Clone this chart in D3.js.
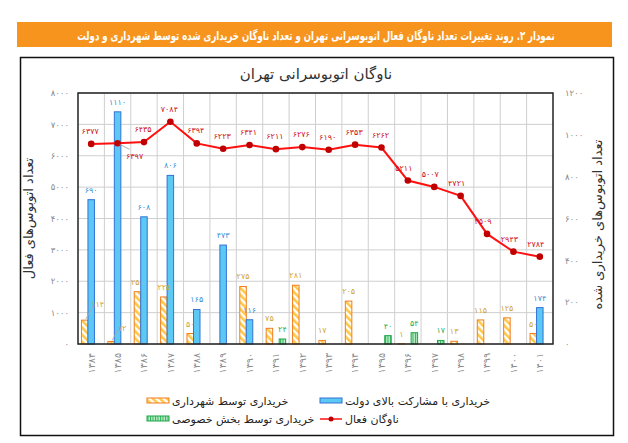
<!DOCTYPE html>
<html><head><meta charset="utf-8">
<script src="https://cdn.jsdelivr.net/npm/d3@7"></script>
<style>
body{margin:0;background:#fff;}
svg{display:block;font-family:"DejaVu Sans",sans-serif;}
</style></head>
<body>
<svg id="c" width="628" height="443"></svg>
<script>
const years = [1384,1385,1386,1387,1388,1389,1390,1391,1392,1393,1394,1395,1396,1397,1398,1399,1400,1401];
const activeFleet = [6377,6397,6435,7084,6394,6223,6341,6211,6276,6190,6353,6262,5211,5007,4721,3509,2943,2784];
const govBuy  = [690,1110,608,806,165,473,116,0,0,0,0,0,0,0,0,0,0,174];
const muniBuy = [114,12,250,225,50,0,275,75,281,17,205,0,1,0,13,115,125,50];
const privBuy = [0,0,0,0,0,0,0,24,0,0,0,40,54,17,0,0,0,0];
const leftTicks = [0,1000,2000,3000,4000,5000,6000,7000,8000];
const rightTicks = [0,200,400,600,800,1000,1200];

const bannerText = "نمودار ۲. روند تغییرات تعداد ناوگان فعال اتوبوسرانی تهران و تعداد ناوگان خریداری شده توسط شهرداری و دولت";
const chartTitle = "ناوگان اتوبوسرانی تهران";
const leftTitle = "تعداد اتوبوس\u200cهای فعال";
const rightTitle = "تعداد اتوبوس\u200cهای خریداری شده";
const legendNames = {gov:"خریداری با مشارکت بالای دولت", muni:"خریداری توسط شهرداری", priv:"خریداری توسط بخش خصوصی", line:"ناوگان فعال"};

const fa = n => String(n).replace(/\d/g, d => "۰۱۲۳۴۵۶۷۸۹"[d]);

const svg = d3.select("#c");
const defs = svg.append("defs");
const ph = defs.append("pattern").attr("id","hatch").attr("patternUnits","userSpaceOnUse")
  .attr("width",5).attr("height",5).attr("patternTransform","rotate(-45)");
ph.append("rect").attr("width",5).attr("height",5).attr("fill","#fff");
ph.append("rect").attr("width",2.6).attr("height",5).attr("fill","#ffc846");
const pg = defs.append("pattern").attr("id","grn").attr("patternUnits","userSpaceOnUse")
  .attr("width",2.5).attr("height",3);
pg.append("rect").attr("width",2.5).attr("height",3).attr("fill","#b9ecc6");
pg.append("rect").attr("width",1).attr("height",3).attr("fill","#2fb25a");

// banner
svg.append("rect").attr("x",17).attr("y",22).attr("width",595).attr("height",25).attr("fill","#f7941d");
const bt = svg.append("text").attr("x",0).attr("y",0).attr("text-anchor","middle").attr("fill","#fff")
  .attr("font-size",12.5).attr("font-weight","bold").text(bannerText);
const bw = bt.node().getComputedTextLength();
bt.attr("transform",`translate(316,39.5) scale(${478/bw},1)`);

// frame
svg.append("rect").attr("x",20.5).attr("y",57.5).attr("width",593).attr("height",378)
  .attr("fill","none").attr("stroke","#111").attr("stroke-width",1.5);

const L=78, R=553, T=93, B=344;
const x = d3.scaleBand().domain(years).range([L,R]);
const keys = ["muni","gov","priv"];
const x1 = d3.scaleBand().domain(keys).range([0,x.bandwidth()]).paddingOuter(0.53);
const yL = d3.scaleLinear().domain([0,8000]).range([B,T]);
const yR = d3.scaleLinear().domain([0,1200]).range([B,T]);

// grid
svg.append("g").selectAll("line").data(leftTicks).join("line")
  .attr("x1",L).attr("x2",R).attr("y1",d=>yL(d)).attr("y2",d=>yL(d)).attr("stroke","#cfcfcf");
svg.append("g").selectAll("line").data(years.slice(1)).join("line")
  .attr("x1",d=>x(d)).attr("x2",d=>x(d)).attr("y1",T).attr("y2",B).attr("stroke","#cfcfcf");

// title
svg.append("text").attr("x",316).attr("y",79).attr("text-anchor","middle").attr("fill","#333")
  .attr("font-size",15).text(chartTitle);

// axes
const ga = svg.append("g").attr("transform",`translate(${L-6},0)`)
  .call(d3.axisLeft(yL).tickValues(leftTicks).tickFormat(fa).tickSize(0));
ga.select(".domain").remove();
ga.selectAll("text").attr("fill","#8a8a8a").attr("font-size",8.5).attr("font-family","DejaVu Sans");
const gr = svg.append("g").attr("transform",`translate(${R+9},0)`)
  .call(d3.axisRight(yR).tickValues(rightTicks).tickFormat(fa).tickSize(0));
gr.select(".domain").remove();
gr.selectAll("text").attr("fill","#8a8a8a").attr("font-size",8.5).attr("font-family","DejaVu Sans");
const gx = svg.append("g").attr("transform",`translate(0,${B+7})`)
  .call(d3.axisBottom(x).tickFormat(fa).tickSize(0));
gx.select(".domain").remove();
gx.selectAll(".tick").attr("transform",d=>`translate(${x(d)+x.bandwidth()/2},0)`);
gx.selectAll(".tick text").attr("fill","#8a8a8a").attr("font-size",9.5).attr("font-family","DejaVu Sans")
  .attr("transform","rotate(-90)").attr("text-anchor","end").attr("dy","0.35em").attr("x",-2).attr("y",0);

svg.append("text").attr("transform",`translate(33,${(T+B)/2}) rotate(-90)`).attr("text-anchor","middle")
  .attr("fill","#333").attr("font-size",13).text(leftTitle);
svg.append("text").attr("transform",`translate(602,${(T+B)/2+6}) rotate(-90)`).attr("text-anchor","middle")
  .attr("fill","#333").attr("font-size",13).text(rightTitle);

// bars
const series = {muni:muniBuy, gov:govBuy, priv:privBuy};
const fills = {muni:"url(#hatch)", gov:"#5cc8f4", priv:"url(#grn)"};
const strokes = {muni:"#f07d1e", gov:"#3572d6", priv:"#1fa64a"};
const labCol = {muni:"#cfa53a", gov:"#3b8fd6", priv:"#2fae57"};
const bars = svg.append("g");
const labels = svg.append("g").attr("font-size",8).attr("text-anchor","middle");
const labelShift = {"muni-1384":[13,-6],"muni-1385":[11,-3]};
keys.forEach(k=>{
  const data = years.map((yr,i)=>({yr,v:series[k][i]})).filter(d=>d.v>0);
  bars.selectAll(null).data(data).join("rect")
    .attr("x",d=>x(d.yr)+x1(k)).attr("width",x1.bandwidth())
    .attr("y",d=>yR(d.v)).attr("height",d=>B-yR(d.v))
    .attr("fill",fills[k]).attr("stroke",strokes[k]).attr("stroke-width",1);
  data.forEach(d=>{
    const cx = x(d.yr)+x1(k)+x1.bandwidth()/2;
    const sh = labelShift[k+"-"+d.yr]||[0,0];
    const lx = cx+sh[0], ly = yR(d.v)-7+sh[1];
    if(sh[0]) labels.append("line").attr("x1",cx+1).attr("y1",yR(d.v)-1).attr("x2",lx-4).attr("y2",ly-2)
      .attr("stroke","#aaa").attr("stroke-width",0.8);
    labels.append("text").attr("x",lx).attr("y",ly).attr("fill",labCol[k]).text(fa(d.v));
  });
});

// plot border
svg.append("rect").attr("x",L).attr("y",T).attr("width",R-L).attr("height",B-T)
  .attr("fill","none").attr("stroke","#222").attr("stroke-width",1.5);

// line
const cxOf = yr => x(yr)+x.bandwidth()/2;
const pts = years.map((yr,i)=>({yr,v:activeFleet[i]}));
svg.append("path").datum(pts).attr("fill","none").attr("stroke","#ff1010").attr("stroke-width",2)
  .attr("d",d3.line().x(d=>cxOf(d.yr)).y(d=>yL(d.v)));
svg.append("g").selectAll("circle").data(pts).join("circle")
  .attr("cx",d=>cxOf(d.yr)).attr("cy",d=>yL(d.v)).attr("r",3.3).attr("fill","#c00000");
const lg = svg.append("g").attr("font-size",8).attr("text-anchor","middle").attr("fill","#d0101a");
pts.forEach(d=>{
  const cx=cxOf(d.yr), cy=yL(d.v);
  if(d.yr===1385){
    lg.append("line").attr("x1",cx+2).attr("y1",cy+1).attr("x2",cx+12).attr("y2",cy+6).attr("stroke","#999").attr("stroke-width",0.8);
    lg.append("text").attr("x",cx+17).attr("y",cy+16).text(fa(d.v));
  } else {
    const dx = d.yr>=1396 ? -4 : -1;
    lg.append("text").attr("x",cx+dx).attr("y",cy-10).text(fa(d.v));
  }
});

// legend
const leg = svg.append("g").attr("font-size",11).attr("fill","#222");
leg.append("rect").attr("x",320).attr("y",398).attr("width",22).attr("height",5).attr("fill","#5cc8f4").attr("stroke","#3572d6");
leg.append("text").attr("x",345).attr("y",405).text(legendNames.gov);
leg.append("rect").attr("x",147).attr("y",398).attr("width",22).attr("height",5).attr("fill","url(#hatch)").attr("stroke","#f07d1e");
leg.append("text").attr("x",172).attr("y",405).text(legendNames.muni);
leg.append("line").attr("x1",320).attr("x2",342).attr("y1",419).attr("y2",419).attr("stroke","#ff1010").attr("stroke-width",1.5);
leg.append("circle").attr("cx",331).attr("cy",419).attr("r",2.5).attr("fill","#c00000");
leg.append("text").attr("x",345).attr("y",423).text(legendNames.line);
leg.append("rect").attr("x",147).attr("y",416).attr("width",22).attr("height",5).attr("fill","url(#grn)").attr("stroke","#1fa64a");
leg.append("text").attr("x",172).attr("y",423).text(legendNames.priv);
</script>
</body></html>
